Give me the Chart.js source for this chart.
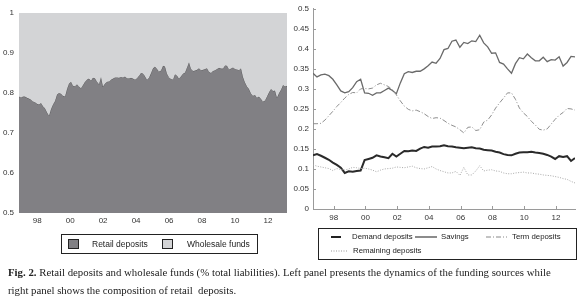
<!DOCTYPE html>
<html>
<head>
<meta charset="utf-8">
<script src="https://cdn.jsdelivr.net/npm/chart.js@4.4.1/dist/chart.umd.min.js"></script>
<style>
  body { margin: 0; background: #fff; width: 577px; height: 301px; position: relative; overflow: hidden;
         font-family: "Liberation Sans", Arial, sans-serif; color: #222; }
  .box { position: absolute; }
  .legend { position: absolute; border: 1px solid #222; box-sizing: border-box; }
  .lg { position: absolute; font-size: 8.5px; line-height: 10px; white-space: nowrap; color: #222; }
  .lg.r { font-size: 7.8px; }
  .sw { position: absolute; width: 11px; height: 10px; box-sizing: border-box; border: 1px solid #222; }
  .caption { position: absolute; left: 8px; top: 263px; width: 569px; font-family: "Liberation Serif", serif;
             font-size: 10.8px; line-height: 18px; color: #222; white-space: nowrap; }
</style>
</head>
<body>
<div class="box" style="left:0;top:0;width:290px;height:230px;"><canvas id="funding"></canvas></div>
<div class="box" style="left:290px;top:0;width:287px;height:225px;"><canvas id="composition"></canvas></div>

<div class="legend" style="left:61px;top:234px;width:197px;height:20px;"></div>
<div class="sw" style="left:68px;top:239px;background:#818084;"></div>
<div class="lg" style="left:92px;top:239px;">Retail deposits</div>
<div class="sw" style="left:162px;top:239px;background:#d3d4d6;"></div>
<div class="lg" style="left:187px;top:239px;">Wholesale funds</div>

<div class="legend" style="left:318px;top:228px;width:259px;height:32px;"></div>
<svg class="box" style="left:330px;top:232px;" width="14" height="10"><line x1="1" y1="5" x2="11" y2="5" stroke="#222" stroke-width="2"/></svg>
<div class="lg r" style="left:352px;top:232px;">Demand deposits</div>
<svg class="box" style="left:415px;top:232px;" width="26" height="10"><line x1="0" y1="5" x2="22" y2="5" stroke="#666" stroke-width="1.5"/></svg>
<div class="lg r" style="left:441px;top:232px;">Savings</div>
<svg class="box" style="left:486px;top:232px;" width="24" height="10"><line x1="0" y1="5" x2="21" y2="5" stroke="#888" stroke-width="1" stroke-dasharray="5,2,1,2"/></svg>
<div class="lg r" style="left:512px;top:232px;">Term deposits</div>
<svg class="box" style="left:331px;top:246px;" width="18" height="10"><line x1="0" y1="5" x2="16" y2="5" stroke="#999" stroke-width="1" stroke-dasharray="1,1.5"/></svg>
<div class="lg r" style="left:353px;top:246px;">Remaining deposits</div>

<div class="caption"><b>Fig. 2.</b> Retail deposits and wholesale funds (% total liabilities). Left panel presents the dynamics of the funding sources while<br>right panel shows the composition of retail&nbsp; deposits.</div>

<script>
// left panel: share of retail deposits in total liabilities (wholesale funds = the rest up to 1)
var fundingStart = 1996.9;
var fundingEnd = 2013.15;
var retailDeposits = [
    0.791, 0.789, 0.791, 0.791, 0.788, 0.786, 0.783, 0.779, 0.777, 0.773,
    0.771, 0.775, 0.767, 0.762, 0.752, 0.743, 0.760, 0.771, 0.780, 0.796,
    0.800, 0.798, 0.793, 0.791, 0.810, 0.824, 0.828, 0.818, 0.817, 0.822,
    0.816, 0.812, 0.820, 0.828, 0.834, 0.836, 0.831, 0.838, 0.837, 0.828,
    0.822, 0.840, 0.816, 0.824, 0.828, 0.829, 0.833, 0.836, 0.839, 0.839,
    0.838, 0.840, 0.839, 0.841, 0.837, 0.836, 0.838, 0.836, 0.833, 0.837,
    0.843, 0.850, 0.849, 0.842, 0.833, 0.838, 0.850, 0.862, 0.866, 0.860,
    0.854, 0.856, 0.868, 0.866, 0.848, 0.839, 0.835, 0.834, 0.847, 0.843,
    0.836, 0.842, 0.848, 0.851, 0.864, 0.877, 0.860, 0.855, 0.856, 0.858,
    0.862, 0.857, 0.858, 0.860, 0.862, 0.853, 0.850, 0.855, 0.857, 0.860,
    0.863, 0.861, 0.861, 0.869, 0.868, 0.859, 0.861, 0.864, 0.860, 0.859,
    0.857, 0.862, 0.840, 0.826, 0.816, 0.810, 0.799, 0.793, 0.795, 0.788,
    0.791, 0.785, 0.779, 0.781, 0.791, 0.802, 0.810, 0.805, 0.806, 0.788,
    0.800, 0.808, 0.820, 0.816, 0.818
];

// right panel: composition of retail deposits, quarterly
var compositionStart = 1996.7;
var compositionEnd = 2013.2;
var demandDeposits = [
    0.134, 0.137, 0.133, 0.128, 0.123, 0.116, 0.110, 0.103, 0.090, 0.094,
    0.093, 0.095, 0.096, 0.122, 0.125, 0.128, 0.134, 0.131, 0.129, 0.127,
    0.138, 0.131, 0.138, 0.145, 0.144, 0.146, 0.145, 0.151, 0.155, 0.153,
    0.156, 0.156, 0.157, 0.159, 0.157, 0.156, 0.154, 0.153, 0.152, 0.153,
    0.154, 0.152, 0.151, 0.148, 0.147, 0.146, 0.143, 0.141, 0.137, 0.135,
    0.134, 0.138, 0.141, 0.142, 0.142, 0.143, 0.141, 0.140, 0.138, 0.135,
    0.131, 0.125, 0.132, 0.130, 0.132, 0.120, 0.127
];
var savings = [
    0.339, 0.330, 0.335, 0.337, 0.333, 0.324, 0.310, 0.295, 0.290, 0.293,
    0.303, 0.318, 0.324, 0.290, 0.289, 0.284, 0.290, 0.290, 0.296, 0.302,
    0.296, 0.288, 0.315, 0.338, 0.343, 0.341, 0.344, 0.344, 0.350, 0.358,
    0.367, 0.364, 0.376, 0.398, 0.401, 0.419, 0.422, 0.404, 0.416, 0.413,
    0.420, 0.418, 0.434, 0.415, 0.405, 0.389, 0.390, 0.366, 0.362, 0.350,
    0.339, 0.363, 0.378, 0.375, 0.387, 0.378, 0.370, 0.370, 0.379, 0.368,
    0.373, 0.372, 0.380, 0.357, 0.366, 0.381, 0.380
];
var termDeposits = [
    0.213, 0.213, 0.214, 0.222, 0.233, 0.244, 0.256, 0.266, 0.277, 0.286,
    0.291, 0.290, 0.300, 0.301, 0.300, 0.302, 0.310, 0.314, 0.310, 0.306,
    0.298, 0.285, 0.270, 0.257, 0.249, 0.245, 0.247, 0.243, 0.238, 0.231,
    0.226, 0.228, 0.227, 0.221, 0.214, 0.209, 0.205, 0.198, 0.190, 0.204,
    0.205, 0.196, 0.198, 0.217, 0.222, 0.235, 0.252, 0.265, 0.277, 0.290,
    0.290, 0.274, 0.252, 0.240, 0.231, 0.219, 0.210, 0.199, 0.197, 0.200,
    0.212, 0.224, 0.234, 0.241, 0.251, 0.250, 0.247
];
var remainingDeposits = [
    0.110, 0.107, 0.105, 0.103, 0.101, 0.096, 0.101, 0.099, 0.097, 0.100,
    0.104, 0.103, 0.101, 0.102, 0.100, 0.097, 0.093, 0.097, 0.100, 0.101,
    0.102, 0.105, 0.104, 0.103, 0.105, 0.107, 0.103, 0.101, 0.100, 0.103,
    0.106, 0.100, 0.096, 0.093, 0.090, 0.090, 0.094, 0.084, 0.104, 0.085,
    0.085, 0.095, 0.108, 0.095, 0.097, 0.098, 0.095, 0.094, 0.090, 0.088,
    0.088, 0.090, 0.091, 0.092, 0.090, 0.090, 0.088, 0.087, 0.085, 0.084,
    0.083, 0.081, 0.079, 0.076, 0.074, 0.069, 0.065
];

var yearTicks = [1998, 2000, 2002, 2004, 2006, 2008, 2010, 2012];

var tickFont = { family: '"Liberation Sans", Arial, sans-serif', size: 8 };

function toPoints(values, start, end) {
    // spread the observations evenly over the sample period
    var step = (end - start) / (values.length - 1);
    return values.map(function (v, i) {
        return { x: start + i * step, y: v };
    });
}

function yearLabel(v) {
    return String(v % 100).padStart(2, '0');
}

function numLabel(v) {
    return String(+v.toFixed(2));
}

function setYearTicks(scale) {
    scale.ticks = yearTicks.map(function (y) { return { value: y }; });
}

// the right panel has short tick marks pointing into the plot
var inwardTicks = {
    id: 'inwardTicks',
    afterDraw: function (chart) {
        var ctx = chart.ctx;
        var area = chart.chartArea;
        var xs = chart.scales.x;
        var ys = chart.scales.y;
        ctx.save();
        ctx.strokeStyle = '#9a9a9a';
        ctx.lineWidth = 1;
        ctx.beginPath();
        ys.ticks.forEach(function (t) {
            var p = Math.round(ys.getPixelForValue(t.value)) + 0.5;
            ctx.moveTo(area.left, p);
            ctx.lineTo(area.left + 3, p);
        });
        xs.ticks.forEach(function (t) {
            var p = Math.round(xs.getPixelForValue(t.value)) + 0.5;
            ctx.moveTo(p, area.bottom);
            ctx.lineTo(p, area.bottom - 3);
        });
        ctx.stroke();
        ctx.restore();
    }
};

Chart.defaults.animation = false;
Chart.defaults.responsive = true;
Chart.defaults.maintainAspectRatio = false;

var noGrid = { display: false, drawTicks: false, tickLength: 0 };
var retailPoints = toPoints(retailDeposits, fundingStart, fundingEnd);

new Chart(document.getElementById('funding'), {
    type: 'line',
    data: {
        datasets: [{
            label: 'Wholesale funds',
            data: retailPoints,
            fill: 'end',
            backgroundColor: '#d3d4d6',
            borderWidth: 0,
            pointRadius: 0
        }, {
            label: 'Retail deposits',
            data: retailPoints,
            fill: 'start',
            backgroundColor: '#818084',
            borderColor: '#5a5a5c',
            borderWidth: 1,
            pointRadius: 0
        }]
    },
    options: {
        layout: { padding: { top: 13, right: 3, left: 0, bottom: 0 } },
        plugins: { legend: { display: false }, tooltip: { enabled: false } },
        scales: {
            x: {
                type: 'linear',
                min: fundingStart,
                max: fundingEnd,
                grid: noGrid,
                border: { display: false },
                afterBuildTicks: setYearTicks,
                afterFit: function (s) { s.height = 17; },
                ticks: { font: tickFont, color: '#333', padding: 3, maxRotation: 0, autoSkip: false, callback: yearLabel }
            },
            y: {
                min: 0.5,
                max: 1,
                grid: noGrid,
                border: { display: false },
                afterFit: function (s) { s.width = 19; },
                ticks: { font: tickFont, color: '#333', padding: 5, stepSize: 0.1, callback: numLabel }
            }
        }
    }
});

new Chart(document.getElementById('composition'), {
    type: 'line',
    data: {
        datasets: [{
            label: 'Remaining deposits',
            data: toPoints(remainingDeposits, compositionStart, compositionEnd),
            borderColor: '#a8a8a8',
            borderWidth: 1,
            borderDash: [1, 1.5],
            pointRadius: 0
        }, {
            label: 'Term deposits',
            data: toPoints(termDeposits, compositionStart, compositionEnd),
            borderColor: '#8e8e8e',
            borderWidth: 1,
            borderDash: [5, 2, 1, 2],
            pointRadius: 0
        }, {
            label: 'Savings',
            data: toPoints(savings, compositionStart, compositionEnd),
            borderColor: '#6a6a6a',
            borderWidth: 1.3,
            pointRadius: 0
        }, {
            label: 'Demand deposits',
            data: toPoints(demandDeposits, compositionStart, compositionEnd),
            borderColor: '#2a2a2a',
            borderWidth: 2,
            pointRadius: 0
        }]
    },
    options: {
        layout: { padding: { top: 4, right: 2, left: 0, bottom: 0 } },
        plugins: { legend: { display: false }, tooltip: { enabled: false } },
        scales: {
            x: {
                type: 'linear',
                min: compositionStart,
                max: compositionEnd,
                grid: noGrid,
                border: { display: true, color: '#9a9a9a' },
                afterBuildTicks: setYearTicks,
                afterFit: function (s) { s.height = 16; },
                ticks: { font: tickFont, color: '#333', padding: 4, maxRotation: 0, autoSkip: false, callback: yearLabel }
            },
            y: {
                min: 0,
                max: 0.5,
                grid: noGrid,
                border: { display: true, color: '#9a9a9a' },
                afterFit: function (s) { s.width = 23; },
                ticks: { font: tickFont, color: '#333', padding: 4, stepSize: 0.05, callback: numLabel }
            }
        }
    },
    plugins: [inwardTicks]
});
</script>
</body>
</html>
